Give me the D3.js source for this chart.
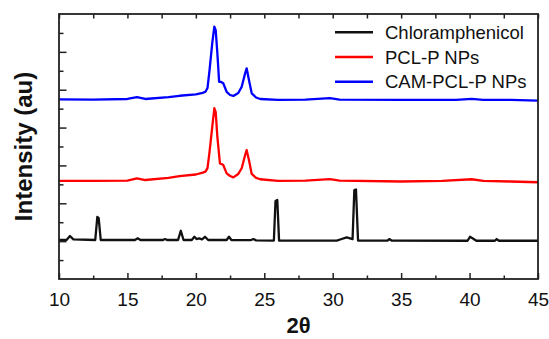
<!DOCTYPE html>
<html>
<head>
<meta charset="utf-8">
<script src="https://cdn.jsdelivr.net/npm/d3@7"></script>
<style>
  body { margin: 0; background: #fff; }
  text { font-family: "Liberation Sans", Arial, sans-serif; }
</style>
</head>
<body>
<div id="chart"></div>
<script>
// XRD patterns (2θ in degrees, intensity in arbitrary units)
const camTheta = [10, 12.5, 15, 15.7, 16.3, 18, 18.8, 20, 20.5, 20.7, 20.85, 21, 21.2, 21.35, 21.45, 21.57, 21.7, 21.85, 22, 22.25, 22.5, 22.74, 23.1, 23.35, 23.6, 23.71, 23.88, 24.08, 24.4, 24.7, 26, 28, 29.8, 30.5, 35, 39, 40.15, 41, 43, 45];
const camInt   = [9.49, 9.48, 9.51, 9.61, 9.51, 9.61, 9.68, 9.75, 9.83, 9.89, 10.09, 11.04, 12.47, 13.33, 13.15, 11.94, 10.42, 10.41, 10.34, 9.89, 9.72, 9.67, 9.83, 10.16, 10.87, 11.13, 10.51, 9.81, 9.59, 9.51, 9.46, 9.48, 9.56, 9.48, 9.46, 9.46, 9.52, 9.46, 9.46, 9.42];

const pclTheta = [10, 12.5, 15, 15.7, 16.3, 18, 18.8, 20, 20.5, 20.7, 20.85, 21, 21.2, 21.35, 21.45, 21.57, 21.76, 21.9, 22, 22.25, 22.5, 22.74, 23.1, 23.35, 23.6, 23.71, 23.88, 24.08, 24.4, 24.7, 26, 28, 29.8, 30.5, 35, 38, 40.15, 41, 43, 45];
const pclInt   = [5.18, 5.18, 5.20, 5.32, 5.23, 5.34, 5.44, 5.52, 5.62, 5.67, 5.86, 6.72, 8.05, 9.02, 8.82, 7.52, 6.11, 6.07, 6.02, 5.58, 5.44, 5.37, 5.55, 5.85, 6.55, 6.81, 6.29, 5.55, 5.34, 5.27, 5.18, 5.20, 5.28, 5.20, 5.15, 5.18, 5.27, 5.18, 5.15, 5.11];

const camPureTheta = [10, 10.55, 10.8, 11.05, 12.65, 12.8, 12.9, 13.05, 15.55, 15.75, 15.95, 17.6, 17.75, 17.9, 18.7, 18.9, 19.1, 19.7, 19.89, 20.05, 20.23, 20.45, 20.67, 20.9, 22.25, 22.42, 22.6, 24, 24.2, 24.4, 25.7, 25.82, 25.95, 26.08, 30.3, 30.6, 31.02, 31.45, 31.58, 31.7, 31.85, 34, 34.13, 34.3, 39.85, 40.03, 40.27, 40.5, 41.85, 41.98, 42.15, 45];
const camPureInt   = [2.06, 2.06, 2.27, 2.09, 2.06, 3.28, 3.22, 2.06, 2.06, 2.15, 2.06, 2.06, 2.11, 2.06, 2.06, 2.55, 2.06, 2.06, 2.23, 2.11, 2.15, 2.09, 2.23, 2.06, 2.06, 2.23, 2.06, 2.05, 2.11, 2.04, 2.03, 4.12, 4.17, 2.03, 2.03, 2.10, 2.20, 2.11, 4.70, 4.73, 2.03, 2.03, 2.11, 2.03, 2.02, 2.23, 2.13, 2.02, 2.02, 2.11, 2.02, 2.02];

const seriesNames  = ['Chloramphenicol', 'PCL-P NPs', 'CAM-PCL-P NPs'];
const seriesColors = ['#111111', '#ff0000', '#0000ff'];
const xTicks = [10, 15, 20, 25, 30, 35, 40, 45];

const width = 549, height = 339;
const margin = { top: 14, right: 11, bottom: 60, left: 59 };

const series = [
  { name: seriesNames[0], color: seriesColors[0], pts: camPureTheta.map((t, i) => [t, camPureInt[i]]) },
  { name: seriesNames[1], color: seriesColors[1], pts: pclTheta.map((t, i) => [t, pclInt[i]]) },
  { name: seriesNames[2], color: seriesColors[2], pts: camTheta.map((t, i) => [t, camInt[i]]) }
];

const svg = d3.select('#chart').append('svg')
    .attr('width', width)
    .attr('height', height);

const x = d3.scaleLinear().domain([10, 45]).range([margin.left, width - margin.right]);
const y = d3.scaleLinear().domain([0, 14]).range([height - margin.bottom, margin.top]);

svg.append('clipPath').attr('id', 'clip')
  .append('rect')
    .attr('x', x(10)).attr('y', y(14))
    .attr('width', x(45) - x(10)).attr('height', y(0) - y(14));

const line = d3.line().x(d => x(d[0])).y(d => y(d[1]));

svg.append('g').attr('clip-path', 'url(#clip)')
  .selectAll('path')
  .data(series)
  .join('path')
    .attr('fill', 'none')
    .attr('stroke', d => d.color)
    .attr('stroke-width', 2.3)
    .attr('stroke-linejoin', 'round')
    .attr('d', d => line(d.pts));

// ticks (inward), major every 5, minor every 2.5
const xMinor = d3.range(12.5, 45, 5);
const axisColor = '#222';

svg.append('g')
    .attr('transform', `translate(0,${y(0)})`)
    .call(d3.axisBottom(x).tickValues(xTicks).tickSize(-6).tickPadding(14))
    .call(g => g.select('.domain').remove())
    .call(g => g.selectAll('.tick line').attr('stroke', axisColor).attr('stroke-width', 1.5))
    .call(g => g.selectAll('.tick text')
      .attr('font-size', 19).attr('fill', '#111')
      .attr('font-family', '"Liberation Sans", Arial, sans-serif'));

svg.append('g')
    .attr('transform', `translate(0,${y(0)})`)
    .call(d3.axisBottom(x).tickValues(xMinor).tickSize(-3.5).tickFormat(''))
    .call(g => g.select('.domain').remove())
    .call(g => g.selectAll('.tick line').attr('stroke', axisColor).attr('stroke-width', 1.5));

svg.append('g')
    .attr('transform', `translate(0,${y(14)})`)
    .call(d3.axisTop(x).tickValues(xTicks.concat(xMinor)).tickSize(-4.5).tickFormat(''))
    .call(g => g.select('.domain').remove())
    .call(g => g.selectAll('.tick line').attr('stroke', axisColor).attr('stroke-width', 1.5));

svg.append('g')
    .attr('transform', `translate(${x(10)},0)`)
    .call(d3.axisLeft(y).tickValues(d3.range(2, 14, 2)).tickSize(-7.5).tickFormat(''))
    .call(g => g.select('.domain').remove())
    .call(g => g.selectAll('.tick line').attr('stroke', axisColor).attr('stroke-width', 1.5));

svg.append('g')
    .attr('transform', `translate(${x(10)},0)`)
    .call(d3.axisLeft(y).tickValues(d3.range(1, 14, 2)).tickSize(-4.5).tickFormat(''))
    .call(g => g.select('.domain').remove())
    .call(g => g.selectAll('.tick line').attr('stroke', axisColor).attr('stroke-width', 1.5));

// frame
svg.append('rect')
    .attr('x', x(10)).attr('y', y(14))
    .attr('width', x(45) - x(10)).attr('height', y(0) - y(14))
    .attr('fill', 'none')
    .attr('stroke', axisColor)
    .attr('stroke-width', 1.8);

// axis titles
svg.append('text')
    .attr('x', (x(10) + x(45)) / 2)
    .attr('y', 333)
    .attr('text-anchor', 'middle')
    .attr('font-size', 22)
    .attr('font-weight', 'bold')
    .attr('fill', '#111')
    .text('2θ');

svg.append('text')
    .attr('transform', `translate(32,${(y(0) + y(14)) / 2}) rotate(-90)`)
    .attr('text-anchor', 'middle')
    .attr('font-size', 24)
    .attr('font-weight', 'bold')
    .attr('fill', '#111')
    .text('Intensity (au)');

// legend
const legend = svg.append('g')
  .selectAll('g')
  .data(series)
  .join('g')
    .attr('transform', (d, i) => `translate(335,${32.3 + i * 24.7})`);

legend.append('line')
    .attr('x1', 0).attr('x2', 38)
    .attr('stroke', d => d.color)
    .attr('stroke-width', 2.5);

legend.append('text')
    .attr('x', 50)
    .attr('y', 6.5)
    .attr('font-size', 18.5)
    .attr('fill', '#111')
    .text(d => d.name);
</script>
</body>
</html>
